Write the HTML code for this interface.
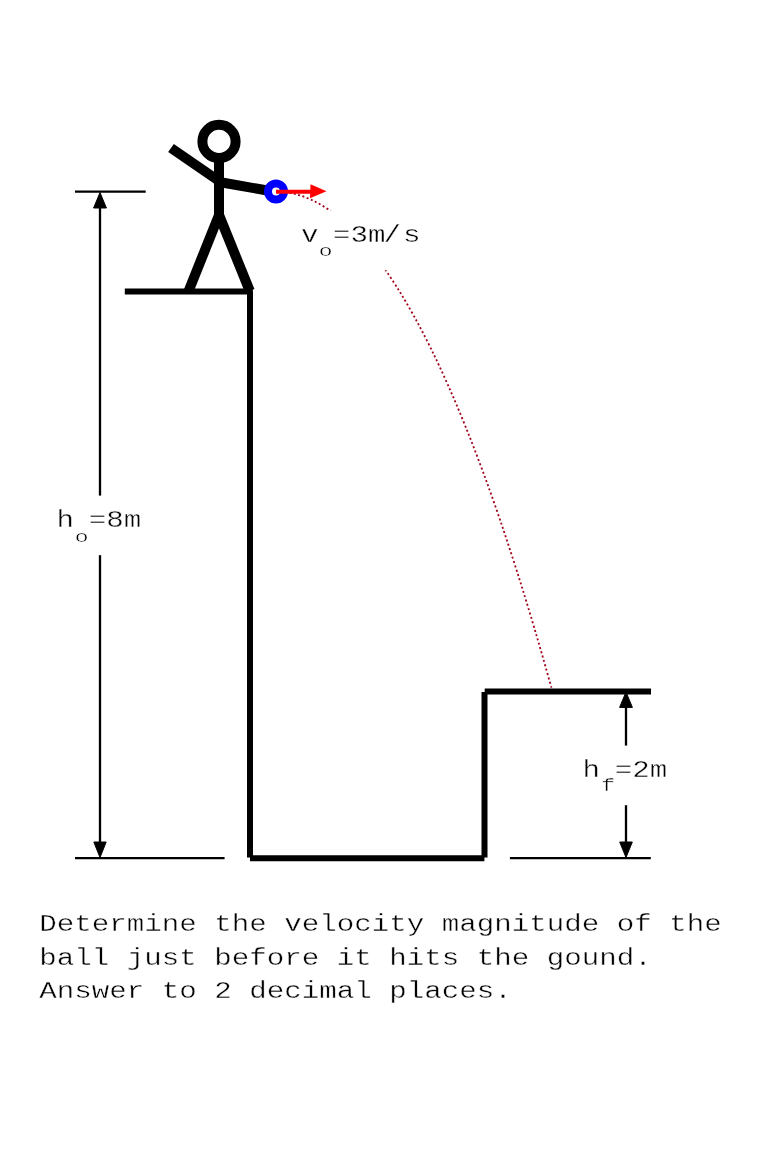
<!DOCTYPE html>
<html><head><meta charset="utf-8"><title>Projectile problem</title>
<style>
html,body{margin:0;padding:0;background:#fff;}
body{width:776px;height:1155px;overflow:hidden;position:relative;font-family:"Liberation Mono",monospace;}
svg{position:absolute;left:0;top:0;display:block;}
</style></head><body>

<svg width="776" height="1155" viewBox="0 0 776 1155">
<path d="M276.0,191.6 Q413.70,191.6 551.4,687.63" fill="none" stroke="#a00018" stroke-width="1.8" stroke-dasharray="2 2.5"/>
<g stroke="#000" stroke-width="2.3" fill="none">
<line x1="75" y1="191.7" x2="145.7" y2="191.7"/>
<line x1="75" y1="858.1" x2="224.6" y2="858.1"/>
<line x1="509.9" y1="858.2" x2="650.8" y2="858.2"/>
<line x1="100" y1="200" x2="100" y2="850"/>
<line x1="626" y1="700" x2="626" y2="850"/>
</g>
<g fill="#000" stroke="#000" stroke-width="1" stroke-linejoin="round">
<polygon points="100,192.5 106.4,208 93.6,208"/>
<polygon points="100,857.5 106.2,842 93.8,842"/>
<polygon points="626,692 632.4,707.4 619.6,707.4"/>
<polygon points="626,857.5 632.3,842 619.7,842"/>
</g>
<g stroke="#000" stroke-width="6" fill="none" stroke-linecap="butt">
<line x1="124.8" y1="291.4" x2="252.8" y2="291.4"/>
<line x1="250" y1="291.6" x2="250" y2="857.5"/>
<line x1="250" y1="858.2" x2="484.4" y2="858.2"/>
<line x1="484.5" y1="692" x2="484.5" y2="857.5"/>
<line x1="484.7" y1="691.6" x2="651" y2="691.6"/>
</g>
<g stroke="#000" stroke-width="10" fill="none" stroke-linecap="butt">
<circle cx="219" cy="141.4" r="16.6"/>
<line x1="219" y1="157" x2="219" y2="216"/>
<line x1="171" y1="148" x2="219" y2="181"/>
<line x1="219" y1="182" x2="276" y2="192"/>
<line x1="219" y1="215" x2="188.6" y2="291"/>
<line x1="219" y1="215" x2="249.8" y2="291"/>
</g>
<circle cx="276" cy="191.6" r="8" fill="#fff" stroke="#0000ff" stroke-width="8"/>
<line x1="276" y1="191.8" x2="312" y2="191.8" stroke="#ff0000" stroke-width="4"/>
<polygon points="310.5,184.3 326.5,191.3 310,198.3" fill="#ff0000"/>
<g fill="#fff">
<rect x="298" y="210.3" width="124" height="60"/>
<rect x="54" y="495.6" width="92" height="59.6"/>
<rect x="580" y="745.6" width="92" height="59.6"/>
</g>
<g font-family="Liberation Mono, monospace" fill="#000" stroke="#fff" stroke-width="0.45" opacity="0.999">
<text transform="translate(301.05 241.80) scale(1 0.83)" font-size="29.17">v</text><text transform="translate(318.85 255.60) scale(1 0.72)" font-size="23">o</text><text transform="translate(332.95 241.80) scale(1 0.83)" font-size="29.17">=3m</text>
<text transform="translate(383.45 241.80) scale(1 0.83)" font-size="29.17">/</text>
<text transform="translate(402.95 241.80) scale(1 0.83)" font-size="29.17">s</text>
<text transform="translate(56.40 526.90) scale(1 0.83)" font-size="29.17">h</text><text transform="translate(74.85 541.60) scale(1 0.72)" font-size="23">o</text><text transform="translate(88.80 526.90) scale(1 0.83)" font-size="29.17">=8m</text>
<text transform="translate(582.60 776.80) scale(1 0.83)" font-size="29.17">h</text><text transform="translate(601.35 790.60) scale(1 0.8)" font-size="23">f</text><text transform="translate(614.80 776.80) scale(1 0.83)" font-size="29.17">=2m</text>
<text transform="translate(39.35 930.8) scale(1 0.83)" font-size="29.17" xml:space="preserve">Determine the velocity magnitude of the</text>
<text transform="translate(39.35 964.9) scale(1 0.83)" font-size="29.17" xml:space="preserve">ball just before it hits the gound.</text>
<text transform="translate(39.35 998.4) scale(1 0.83)" font-size="29.17" xml:space="preserve">Answer to 2 decimal places.</text>
</g>
</svg>
</body></html>
